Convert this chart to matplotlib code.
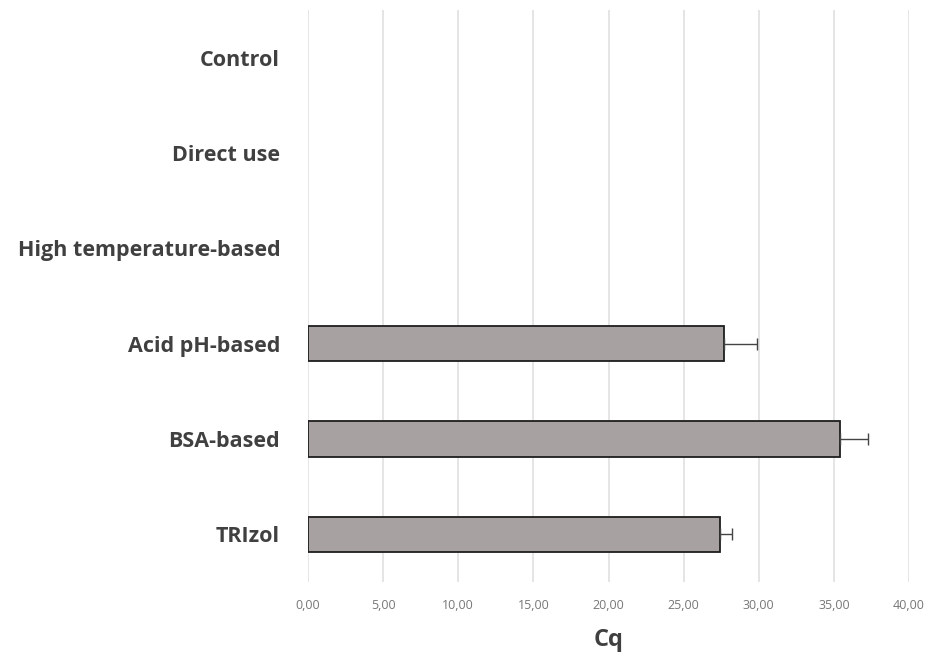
import numpy as np
import matplotlib
matplotlib.use("Agg")
import matplotlib.pyplot as plt
from matplotlib.ticker import FuncFormatter

categories = ["Control", "Direct use", "High temperature-based",
              "Acid pH-based", "BSA-based", "TRIzol"]
cq_values = [0, 0, 0, 27.7, 35.4, 27.4]
cq_errors = [0, 0, 0, 2.2, 1.9, 0.8]
x_ticks = [0, 5, 10, 15, 20, 25, 30, 35, 40]

plt.rcParams["font.family"] = ["Open Sans", "DejaVu Sans"]

fig = plt.figure(figsize=(9.29, 6.58), dpi=100)
ax = fig.add_axes([308 / 929, 1 - 582 / 658, (909 - 308) / 929, 572 / 658])

y = np.arange(len(categories))
vals = np.array(cq_values, dtype=float)
errs = np.array(cq_errors, dtype=float)
has_bar = vals > 0

ax.barh(y[has_bar], vals[has_bar], height=0.37, color="#a7a2a1",
        edgecolor="#1e1e1e", linewidth=1.3, zorder=3)
ax.errorbar(vals[has_bar], y[has_bar],
            xerr=[np.zeros(has_bar.sum()), errs[has_bar]],
            fmt="none", ecolor="#444444", elinewidth=1.0, capsize=4,
            capthick=1.0, zorder=4)

ax.set_xlim(0, 40)
ax.set_ylim(5.5, -0.5)
ax.set_xticks(x_ticks)
ax.xaxis.set_major_formatter(FuncFormatter(lambda v, p: f"{v:.2f}".replace(".", ",")))
ax.set_yticks(y)
ax.set_yticklabels(categories, fontsize=15.5, fontweight="bold", color="#404040")
ax.tick_params(axis="y", length=0, pad=20)
ax.tick_params(axis="x", length=0, pad=12, labelsize=9, labelcolor="#777777")

ax.grid(axis="x", color="#e3e3e3", linewidth=1.3, zorder=0)
ax.set_axisbelow(True)
for s in ax.spines.values():
    s.set_visible(False)

ax.set_xlabel("Cq", fontsize=17, fontweight="bold", color="#404040", labelpad=12)

fig.savefig("out.png", dpi=100)
